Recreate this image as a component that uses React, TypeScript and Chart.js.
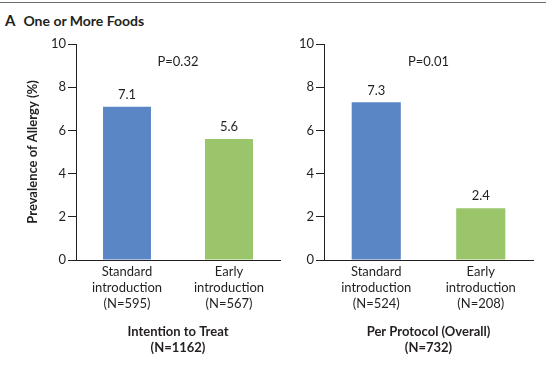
import React, { useEffect, useRef } from 'react';
import { Chart, registerables } from 'chart.js';

Chart.register(...registerables);

// ---- data ----
const categoriesITT: string[][] = [
  ['Standard', 'introduction', '(N=595)'],
  ['Early', 'introduction', '(N=567)'],
];
const valuesITT: number[] = [7.1, 5.6];
const categoriesPP: string[][] = [
  ['Standard', 'introduction', '(N=524)'],
  ['Early', 'introduction', '(N=208)'],
];
const valuesPP: number[] = [7.3, 2.4];
const yTickValues: number[] = [0, 2, 4, 6, 8, 10];
const barColors: string[] = ['#5B86C5', '#9BC56B'];
const pValueITT = 'P=0.32';
const pValuePP = 'P=0.01';
const titleITT: string[] = ['Intention to Treat', '(N=1162)'];
const titlePP: string[] = ['Per Protocol (Overall)', '(N=732)'];
const yAxisTitle = 'Prevalence of Allergy (%)';
const panelHeading = 'One or More Foods';
const panelLetter = 'A';

const FONT = 'Lato';
const TEXT = '#231f20';

const annotPlugin = {
  id: 'annot',
  afterDatasetsDraw(chart: any, _args: any, opts: any) {
    const { ctx, chartArea, scales } = chart;
    const meta = chart.getDatasetMeta(0);
    ctx.save();
    ctx.font = `13px ${FONT}`;
    ctx.fillStyle = TEXT;
    ctx.textAlign = 'center';
    ctx.textBaseline = 'middle';
    meta.data.forEach((bar: any, i: number) => {
      const v = chart.data.datasets[0].data[i] as number;
      ctx.fillText(v.toFixed(1), bar.x, bar.y - 12);
    });
    ctx.fillText(
      opts.pText,
      (chartArea.left + chartArea.right) / 2,
      scales.y.getPixelForValue(9.17)
    );
    ctx.restore();
  },
};

interface PanelProps {
  labels: string[][];
  values: number[];
  pText: string;
  title: string[];
  showYTitle: boolean;
  width: number;
  yWidth: number;
  padRight: number;
}

function Panel(props: PanelProps) {
  const ref = useRef<HTMLCanvasElement | null>(null);
  useEffect(() => {
    if (!ref.current) return;
    const chart = new Chart(ref.current, {
      type: 'bar',
      data: {
        labels: props.labels,
        datasets: [
          {
            data: props.values,
            backgroundColor: barColors,
            borderWidth: 0,
            categoryPercentage: 1,
            barPercentage: 0.47,
          },
        ],
      },
      plugins: [annotPlugin],
      options: {
        responsive: false,
        animation: false,
        devicePixelRatio: 1,
        layout: { padding: { top: 44, right: props.padRight, bottom: 0, left: 0 } },
        plugins: {
          legend: { display: false },
          tooltip: { enabled: false },
          title: { display: false },
          annot: { pText: props.pText },
        } as any,
        scales: {
          x: {
            type: 'category',
            grid: { display: false, drawTicks: false },
            border: { display: true, color: TEXT, width: 1 },
            ticks: {
              font: { family: FONT, size: 13, lineHeight: 16 / 13 },
              color: TEXT,
              padding: 4,
              maxRotation: 0,
              autoSkip: false,
            },
            title: {
              display: true,
              text: props.title,
              font: { family: FONT, size: 13, weight: 'bold', lineHeight: 16 / 13 },
              color: TEXT,
              padding: { top: 0, bottom: 17 },
            },
            afterFit: (s: any) => {
              s.height = 113;
            },
          },
          y: {
            type: 'linear',
            min: 0,
            max: 10,
            afterBuildTicks: (s: any) => {
              s.ticks = yTickValues.map((v) => ({ value: v }));
            },
            grid: {
              drawOnChartArea: false,
              drawTicks: true,
              tickLength: 8,
              color: TEXT,
            },
            border: { display: true, color: TEXT, width: 1 },
            ticks: {
              font: { family: FONT, size: 13 },
              color: TEXT,
              padding: 2,
            },
            title: {
              display: props.showYTitle,
              text: yAxisTitle,
              font: { family: FONT, size: 13, weight: 'bold' },
              color: TEXT,
              padding: { top: 25, bottom: 0 },
            },
            afterFit: (s: any) => {
              s.width = props.yWidth;
            },
          },
        },
      } as any,
    });
    return () => chart.destroy();
  }, []);
  return (
    <canvas
      ref={ref}
      width={props.width}
      height={373}
      style={{ display: 'block', width: props.width, height: 373 }}
    />
  );
}

export default function App() {
  return (
    <div
      style={{
        position: 'absolute',
        left: 0,
        top: 0,
        width: 546,
        height: 373,
        background: '#fff',
        overflow: 'hidden',
        fontFamily: FONT,
      }}
    >
      <div
        style={{
          position: 'absolute',
          left: 0,
          top: 2,
          width: 546,
          height: 1,
          background: '#6d6e71',
        }}
      />
      <div
        style={{
          position: 'absolute',
          left: 5,
          top: 11,
          fontSize: 14,
          lineHeight: '18px',
          fontWeight: 'bold',
          color: TEXT,
          whiteSpace: 'nowrap',
        }}
      >
        <span style={{ fontSize: 15 }}>{panelLetter}</span>
        <span style={{ marginLeft: 8 }}>{panelHeading}</span>
      </div>
      <div style={{ position: 'absolute', left: 0, top: 0 }}>
        <Panel
          labels={categoriesITT}
          values={valuesITT}
          pText={pValueITT}
          title={titleITT}
          showYTitle={true}
          width={290}
          yWidth={76}
          padRight={10}
        />
      </div>
      <div style={{ position: 'absolute', left: 290, top: 0 }}>
        <Panel
          labels={categoriesPP}
          values={valuesPP}
          pText={pValuePP}
          title={titlePP}
          showYTitle={false}
          width={256}
          yWidth={34}
          padRight={13}
        />
      </div>
    </div>
  );
}
